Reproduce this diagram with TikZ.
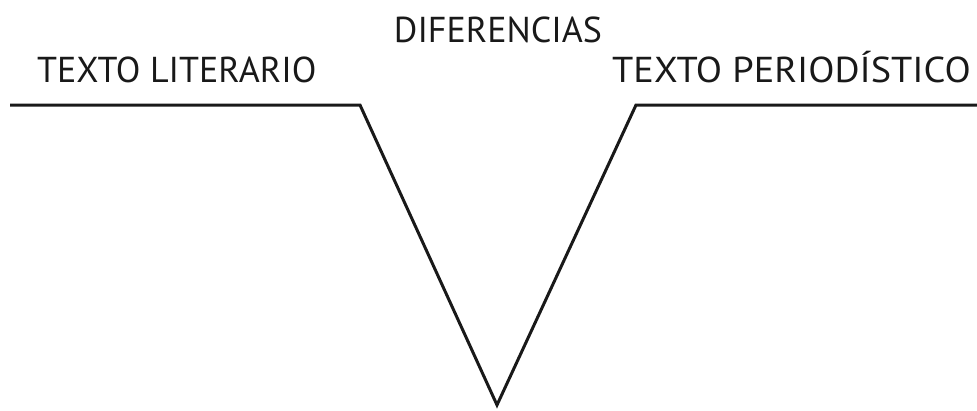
\documentclass[tikz,border=0pt]{standalone}
\usepackage{fontspec}
\setmainfont{PT Sans}
\begin{document}
\begin{tikzpicture}[x=1pt,y=-1pt,
  lbl/.style={inner sep=0pt,font=\fontsize{36}{36}\selectfont,text=black!90},
  vline/.style={line width=3pt,black!90,line join=miter,miter limit=20}]
\useasboundingbox (0,0) rectangle (977,410);
\node[lbl,anchor=base] (dif) at (498,42) {DIFERENCIAS};
\node[lbl,anchor=base west] (lit) at (37,82) {TEXTO LITERARIO};
\node[lbl,anchor=base west] (per) at (612,82) {\scalebox{1.065}[1]{TEXTO PERIODÍSTICO}};
\coordinate (a) at (10,105);
\coordinate (b) at (360,105);
\coordinate (v) at (497,405);
\coordinate (c) at (636,105);
\coordinate (d) at (977,105);
\draw[vline] (a) -- (b) -- (v) -- (c) -- (d);
\end{tikzpicture}
\end{document}
